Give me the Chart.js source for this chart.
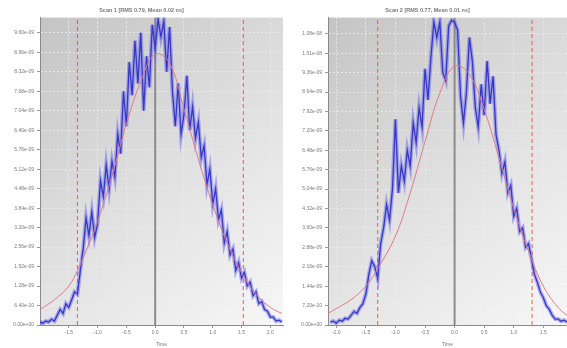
<!DOCTYPE html>
<html>
<head>
<meta charset="utf-8">
<script src="https://cdn.jsdelivr.net/npm/chart.js@4.4.1/dist/chart.umd.min.js"></script>
<style>
  html, body { margin: 0; padding: 0; background: #fff; }
  .wrap { position: relative; width: 567px; height: 348px; overflow: hidden; }
  #leftChart { position: absolute; left: 0; top: 0; }
  #rightChart { position: absolute; left: 288px; top: 0; }
</style>
</head>
<body>
<div class="wrap">
  <canvas id="leftChart" width="288" height="348"></canvas>
  <canvas id="rightChart" width="279" height="348"></canvas>
</div>
<script>
// Scan 1 (left panel), values in units of 1e-9
const leftX = [
  -2.00, -1.95, -1.90, -1.85, -1.80, -1.75, -1.70, -1.65, -1.60, -1.55,
  -1.50, -1.45, -1.40, -1.35, -1.30, -1.25, -1.20, -1.15, -1.10, -1.05,
  -1.00, -0.95, -0.90, -0.85, -0.80, -0.75, -0.70, -0.65, -0.60, -0.55,
  -0.50, -0.45, -0.40, -0.35, -0.30, -0.25, -0.20, -0.15, -0.10, -0.05,
  0.00, 0.05, 0.10, 0.15, 0.20, 0.25, 0.30, 0.35, 0.40, 0.45,
  0.50, 0.55, 0.60, 0.65, 0.70, 0.75, 0.80, 0.85, 0.90, 0.95,
  1.00, 1.05, 1.10, 1.15, 1.20, 1.25, 1.30, 1.35, 1.40, 1.45,
  1.50, 1.55, 1.60, 1.65, 1.70, 1.75, 1.80, 1.85, 1.90, 1.95,
  2.00, 2.05, 2.10, 2.15, 2.20
];
const leftCounts = [
  0.10, 0.06, 0.13, 0.10, 0.19, 0.13, 0.32, 0.51, 0.38, 0.70,
  0.58, 0.83, 1.09, 1.02, 1.79, 2.50, 3.52, 2.94, 3.71, 2.88,
  3.33, 4.74, 4.22, 5.25, 4.48, 5.38, 4.86, 6.27, 5.63, 7.68,
  6.53, 8.64, 7.55, 9.34, 7.94, 9.60, 7.04, 8.83, 7.81, 9.86,
  9.09, 10.05, 9.47, 9.98, 8.32, 9.79, 7.68, 6.53, 7.94, 6.27,
  6.91, 8.19, 6.40, 7.17, 6.14, 6.66, 5.50, 5.89, 4.61, 5.12,
  3.97, 4.48, 3.46, 3.78, 2.69, 3.07, 2.30, 2.50, 1.79, 2.05,
  1.54, 1.73, 1.28, 1.41, 0.96, 1.09, 0.70, 0.77, 0.51, 0.45,
  0.26, 0.26, 0.13, 0.16, 0.10
];
const leftFitX = [-2.0, -1.75, -1.5, -1.35, -1.2, -1.0, -0.75, -0.5, -0.25, 0, 0.25, 0.5, 0.75, 1.0, 1.25, 1.5, 1.75, 2.0, 2.2];
const leftFitY = [0.51, 0.83, 1.28, 1.79, 2.43, 3.40, 4.90, 6.60, 8.00, 8.90, 8.60, 7.10, 5.45, 3.95, 2.70, 1.72, 1.02, 0.58, 0.38];
const leftMarkers = [-1.35, 1.53];
const leftXTicks = [-1.5, -1.0, -0.5, 0, 0.5, 1.0, 1.5, 2.0];
const leftXLabels = ['-1.5', '-1.0', '-0.5', '0.0', '0.5', '1.0', '1.5', '2.0'];
const leftYTicks = [0, 0.64, 1.28, 1.92, 2.56, 3.20, 3.84, 4.48, 5.12, 5.76, 6.40, 7.04, 7.68, 8.32, 8.96, 9.60];
const leftYLabels = ['0.00e+00', '6.40e-10', '1.28e-09', '1.92e-09', '2.56e-09', '3.20e-09', '3.84e-09', '4.48e-09',
  '5.12e-09', '5.76e-09', '6.40e-09', '7.04e-09', '7.68e-09', '8.32e-09', '8.96e-09', '9.60e-09'];

// Scan 2 (right panel)
const rightX = [
  -2.10, -2.05, -2.00, -1.95, -1.90, -1.85, -1.80, -1.75, -1.70, -1.65,
  -1.60, -1.55, -1.50, -1.45, -1.40, -1.35, -1.30, -1.25, -1.20, -1.15,
  -1.10, -1.05, -1.00, -0.95, -0.90, -0.85, -0.80, -0.75, -0.70, -0.65,
  -0.60, -0.55, -0.50, -0.45, -0.40, -0.35, -0.30, -0.25, -0.20, -0.15,
  -0.10, -0.05, 0.00, 0.05, 0.10, 0.15, 0.20, 0.25, 0.30, 0.35,
  0.40, 0.45, 0.50, 0.55, 0.60, 0.65, 0.70, 0.75, 0.80, 0.85,
  0.90, 0.95, 1.00, 1.05, 1.10, 1.15, 1.20, 1.25, 1.30, 1.35,
  1.40, 1.45, 1.50, 1.55, 1.60, 1.65, 1.70, 1.75, 1.80, 1.85,
  1.90
];
const rightCounts = [
  0.11, 0.14, 0.07, 0.18, 0.14, 0.25, 0.22, 0.36, 0.50, 0.43,
  0.65, 0.79, 1.15, 1.87, 2.38, 2.16, 1.73, 3.02, 3.60, 4.46,
  3.89, 5.04, 7.63, 4.90, 5.90, 5.33, 6.48, 5.90, 7.49, 6.77,
  8.06, 7.34, 9.50, 8.35, 9.94, 11.23, 10.66, 11.23, 9.36, 9.07,
  11.09, 11.30, 11.23, 10.94, 8.50, 7.49, 8.64, 10.66, 9.79, 8.06,
  7.34, 8.93, 7.78, 9.79, 8.21, 9.22, 7.06, 6.48, 5.62, 6.05,
  4.90, 5.18, 4.03, 4.32, 3.46, 3.60, 2.88, 3.02, 2.45, 1.87,
  1.58, 1.22, 1.01, 0.72, 0.58, 0.36, 0.22, 0.22, 0.14, 0.18,
  0.11
];
const rightFitX = [-2.14, -2.0, -1.75, -1.5, -1.3, -1.0, -0.75, -0.5, -0.25, 0, 0.25, 0.5, 0.75, 1.0, 1.25, 1.5, 1.75, 1.9];
const rightFitY = [0.43, 0.61, 0.94, 1.44, 2.09, 3.30, 4.90, 6.80, 8.60, 9.60, 9.30, 8.00, 6.20, 4.32, 2.74, 1.44, 0.65, 0.36];
const rightMarkers = [-1.30, 1.31];
const rightXTicks = [-2.0, -1.5, -1.0, -0.5, 0, 0.5, 1.0, 1.5];
const rightXLabels = ['-2.0', '-1.5', '-1.0', '-0.5', '0.0', '0.5', '1.0', '1.5'];
const rightYTicks = [0, 0.72, 1.44, 2.16, 2.88, 3.60, 4.32, 5.04, 5.76, 6.48, 7.20, 7.92, 8.64, 9.36, 10.08, 10.80];
const rightYLabels = ['0.00e+00', '7.20e-10', '1.44e-09', '2.16e-09', '2.88e-09', '3.60e-09', '4.32e-09', '5.04e-09',
  '5.76e-09', '6.48e-09', '7.20e-09', '7.92e-09', '8.64e-09', '9.36e-09', '1.01e-08', '1.08e-08'];

const tickFont = { family: 'Liberation Sans', size: 5 };
const textColor = '#7a7a7a';

// Gray gradient behind the plot area
const plotBackground = {
    id: 'plotBackground',
    beforeDraw(chart) {
        const { ctx, chartArea: a } = chart;
        const g = ctx.createLinearGradient(a.left, a.top, a.right, a.bottom);
        g.addColorStop(0, '#c4c4c4');
        g.addColorStop(0.55, '#e2e2e2');
        g.addColorStop(1, '#f7f7f7');
        ctx.save();
        ctx.fillStyle = g;
        ctx.fillRect(a.left, a.top, a.width, a.height);
        ctx.restore();
    }
};

function vline(x, yMax, color, width, dash) {
    return {
        data: [{ x, y: 0 }, { x, y: yMax }],
        borderColor: color,
        borderWidth: width,
        borderDash: dash,
        pointRadius: 0,
        fill: false
    };
}

function makeScan(id, cfg) {
    const points = cfg.x.map((x, i) => ({ x, y: cfg.y[i] }));
    const fit = cfg.fitX.map((x, i) => ({ x, y: cfg.fitY[i] }));
    const datasets = [
        { data: fit, borderColor: '#e07a86', borderWidth: 1, pointRadius: 0, tension: 0.4, fill: false },
        { data: points, borderColor: 'rgba(90,90,235,0.45)', borderWidth: 4, pointRadius: 0, tension: 0, fill: false },
        { data: points, borderColor: '#1a1aa6', borderWidth: 1.3, pointRadius: 0, tension: 0, fill: false },
        vline(0, cfg.yMax, '#8c8c8c', 2, []),
        ...cfg.markers.map(m => vline(m, cfg.yMax, '#e0663c', 1, [4, 3]))
    ];

    return new Chart(document.getElementById(id), {
        type: 'line',
        data: { datasets },
        plugins: [plotBackground],
        options: {
            responsive: false,
            animation: false,
            layout: { padding: { top: 3, right: cfg.padRight, left: 0, bottom: 0 } },
            plugins: {
                legend: { display: false },
                tooltip: { enabled: false },
                title: {
                    display: true,
                    text: cfg.title,
                    color: textColor,
                    font: { family: 'Liberation Sans', size: 5.5 },
                    padding: { top: 4, bottom: 4 }
                }
            },
            scales: {
                x: {
                    type: 'linear',
                    min: cfg.xMin,
                    max: cfg.xMax,
                    afterBuildTicks: s => { s.ticks = cfg.xTicks.map(v => ({ value: v })); },
                    afterFit: s => { s.height = 23; },
                    ticks: {
                        callback: (v, i) => cfg.xLabels[i],
                        font: tickFont,
                        color: textColor,
                        padding: 2,
                        maxRotation: 0,
                        autoSkip: false
                    },
                    grid: { color: 'rgba(236,236,236,0.85)', tickColor: '#999', tickLength: 3 },
                    border: { color: '#8a8a8a', dash: [2, 2] },
                    title: { display: true, text: cfg.xTitle, color: textColor, font: tickFont, padding: { top: 1, bottom: 0 } }
                },
                y: {
                    type: 'linear',
                    min: 0,
                    max: cfg.yMax,
                    afterBuildTicks: s => { s.ticks = cfg.yTicks.map(v => ({ value: v })); },
                    afterFit: s => { s.width = 40; },
                    ticks: {
                        callback: (v, i) => cfg.yLabels[i],
                        font: tickFont,
                        color: textColor,
                        padding: 3,
                        autoSkip: false
                    },
                    grid: { color: 'rgba(236,236,236,0.85)', tickColor: '#999', tickLength: 3 },
                    border: { color: '#8a8a8a', dash: [2, 2] }
                }
            }
        }
    });
}

makeScan('leftChart', {
    title: 'Scan 1 [RMS 0.79, Mean 0.02 ns]',
    x: leftX, y: leftCounts, fitX: leftFitX, fitY: leftFitY,
    markers: leftMarkers,
    xTicks: leftXTicks, xLabels: leftXLabels,
    yTicks: leftYTicks, yLabels: leftYLabels,
    xMin: -2.0, xMax: 2.22, yMax: 10.1,
    xTitle: 'Time', padRight: 5
});

makeScan('rightChart', {
    title: 'Scan 2 [RMS 0.77, Mean 0.01 ns]',
    x: rightX, y: rightCounts, fitX: rightFitX, fitY: rightFitY,
    markers: rightMarkers,
    xTicks: rightXTicks, xLabels: rightXLabels,
    yTicks: rightYTicks, yLabels: rightYLabels,
    xMin: -2.14, xMax: 1.9, yMax: 11.4,
    xTitle: 'Time', padRight: 0
});
</script>
</body>
</html>
